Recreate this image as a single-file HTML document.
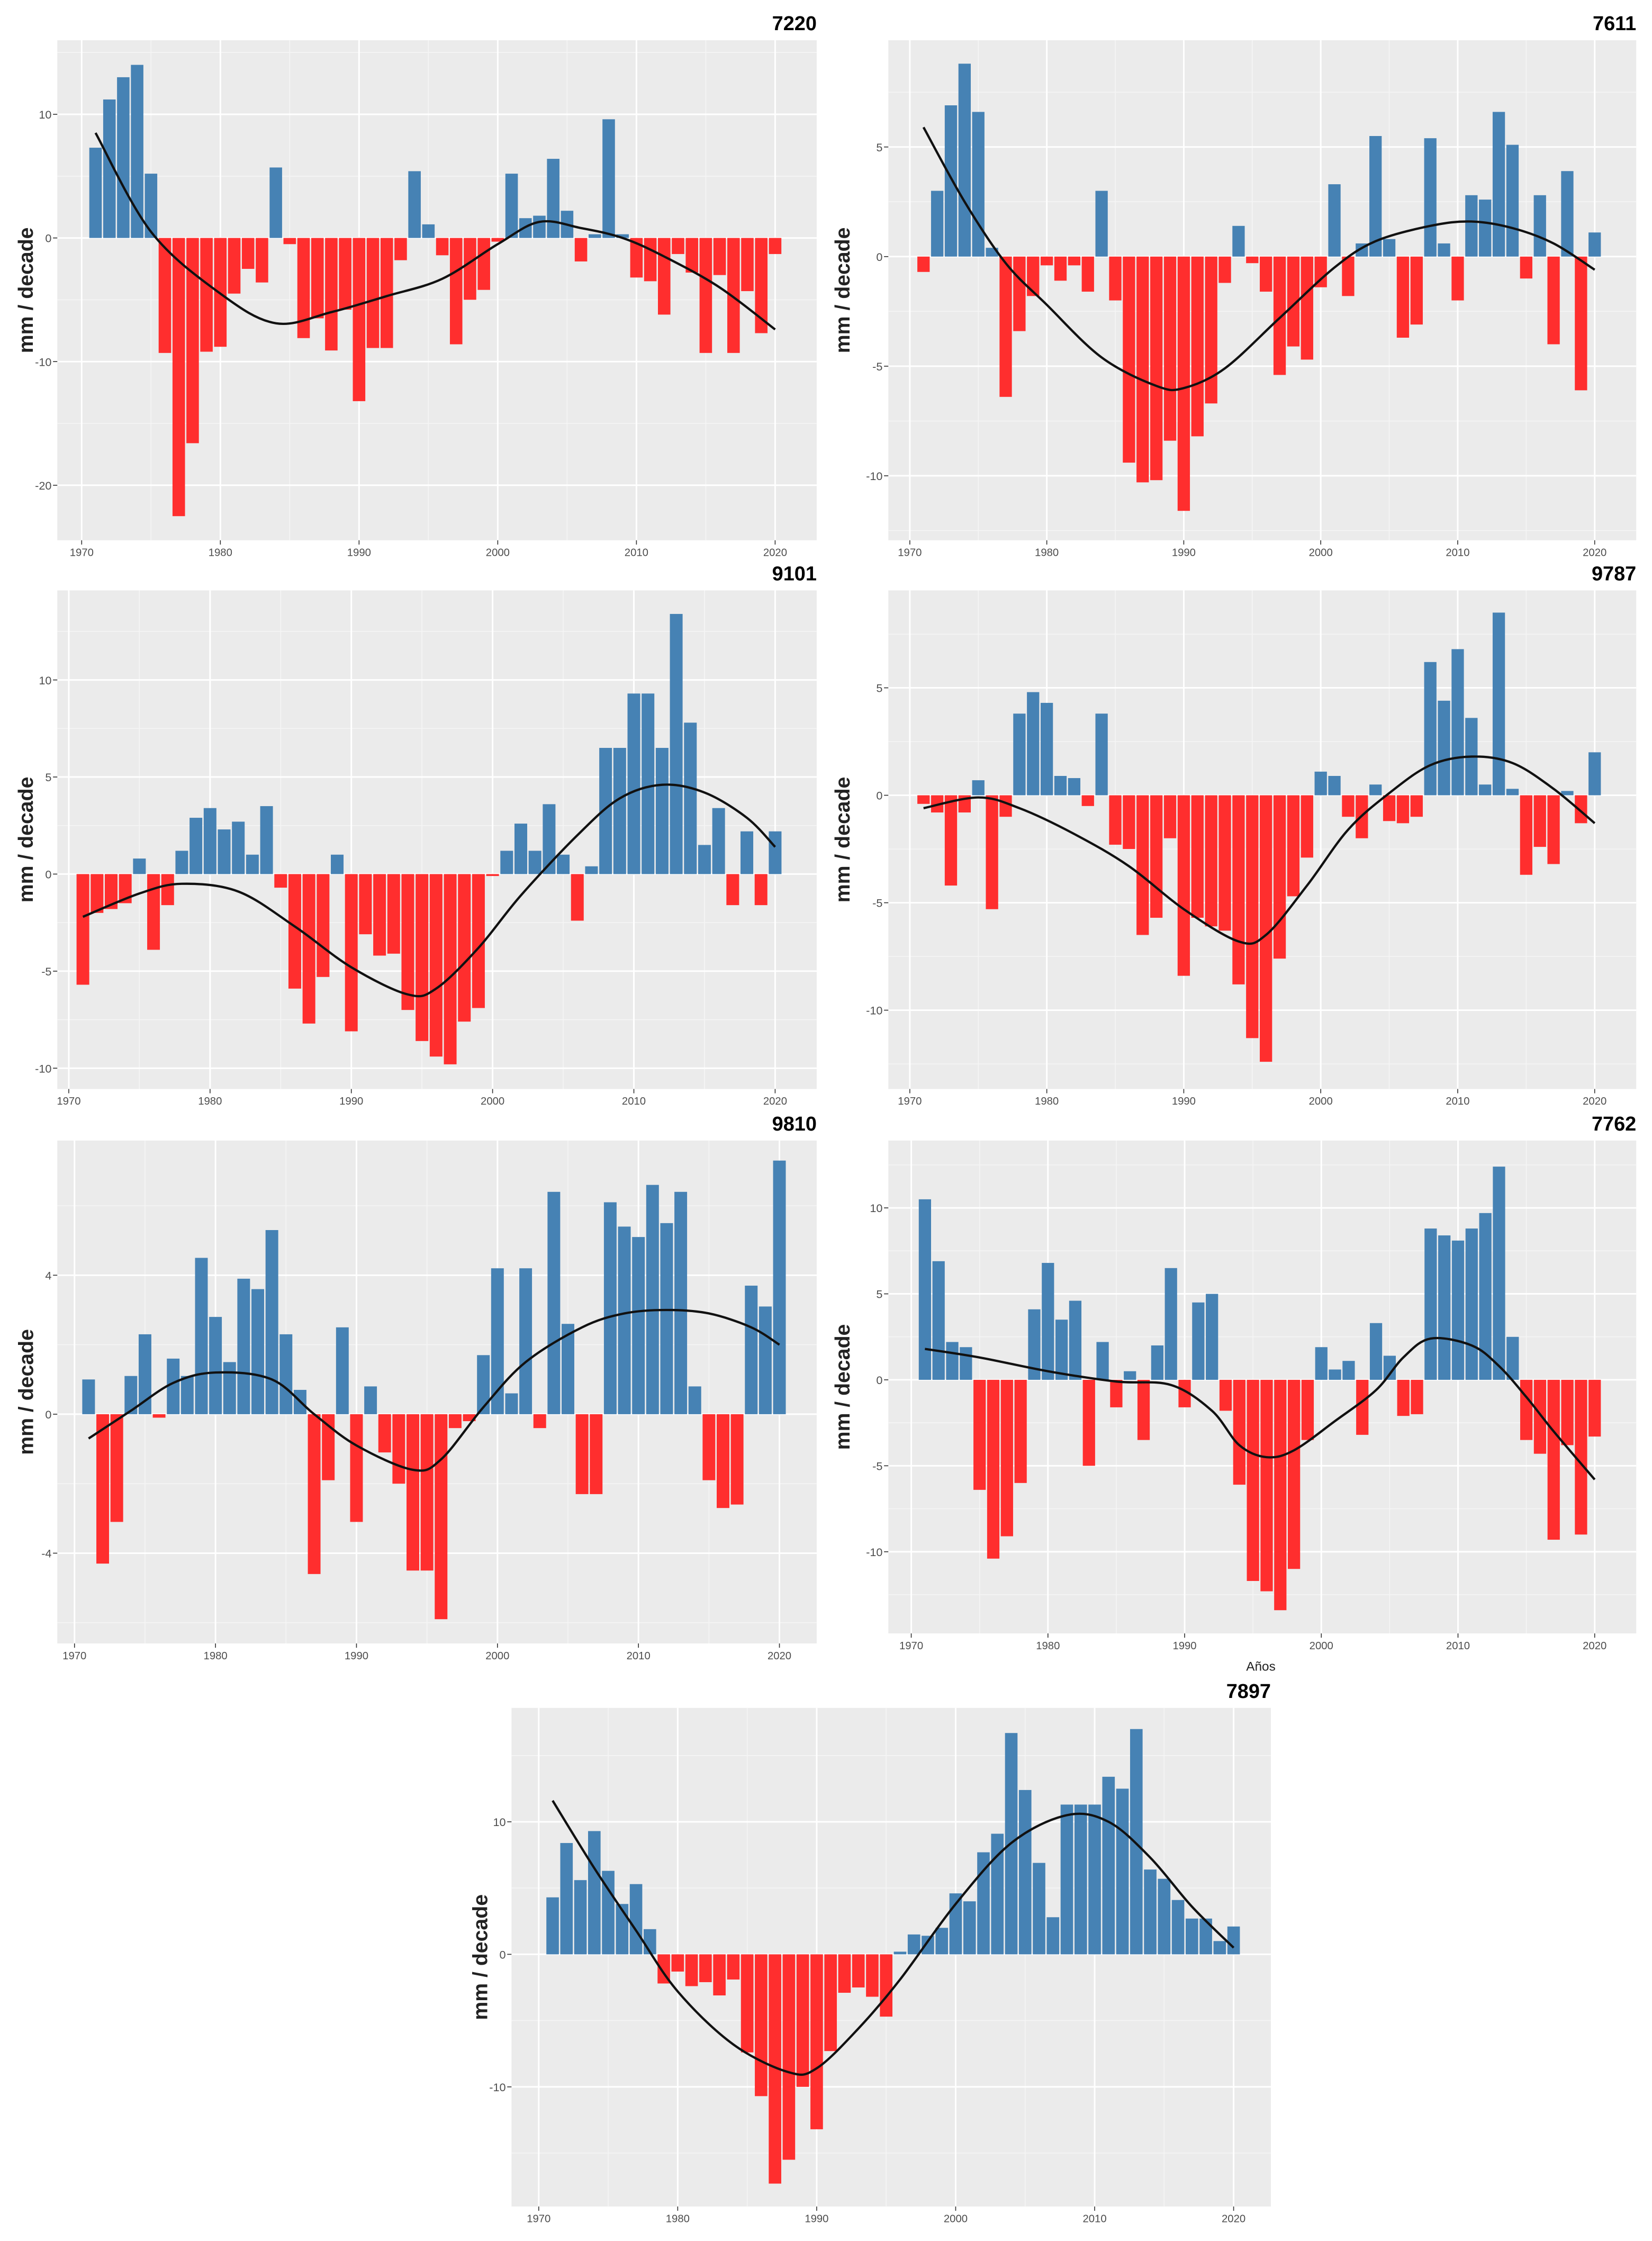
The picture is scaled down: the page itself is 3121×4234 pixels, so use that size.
<!DOCTYPE html>
<html><head><meta charset="utf-8"><style>
html,body{margin:0;padding:0;background:#fff}
svg{display:block}
text{font-family:"Liberation Sans",sans-serif}
</style></head><body>
<svg id="fig" xmlns="http://www.w3.org/2000/svg" width="3121" height="4234" viewBox="0 0 1153 1564"></svg>
<script>
const years=[];for(let y=1971;y<=2020;y++)years.push(y);
const xTicks=[1970,1980,1990,2000,2010,2020];
// Panel values (mm/decade), 1971-2020
const v7220=[7.3,11.2,13,14,5.2,-9.3,-22.5,-16.6,-9.2,-8.8,-4.5,-2.5,-3.6,5.7,-0.5,-8.1,-6.5,-9.1,-5.8,-13.2,-8.9,-8.9,-1.8,5.4,1.1,-1.4,-8.6,-5,-4.2,-0.3,5.2,1.6,1.8,6.4,2.2,-1.9,0.3,9.6,0.3,-3.2,-3.5,-6.2,-1.3,-2.8,-9.3,-3,-9.3,-4.3,-7.7,-1.3];
const s7220Y=[1971,1975,1980,1984,1988,1992,1996,2000,2003,2006,2009,2012,2016,2020];
const s7220V=[8.5,0.5,-4.5,-6.9,-6,-4.7,-3.3,-0.5,1.3,0.8,0,-1.5,-4,-7.4];
const v7611=[-0.7,3,6.9,8.8,6.6,0.4,-6.4,-3.4,-1.8,-0.4,-1.1,-0.4,-1.6,3,-2,-9.4,-10.3,-10.2,-8.4,-11.6,-8.2,-6.7,-1.2,1.4,-0.3,-1.6,-5.4,-4.1,-4.7,-1.4,3.3,-1.8,0.6,5.5,0.8,-3.7,-3.1,5.4,0.6,-2,2.8,2.6,6.6,5.1,-1,2.8,-4,3.9,-6.1,1.1];
const s7611Y=[1971,1974,1977,1980,1984,1988,1990,1993,1997,2001,2004,2008,2011,2014,2017,2020];
const s7611V=[5.9,2.5,-0.3,-2.2,-4.6,-5.9,-6,-5.1,-2.8,-0.5,0.7,1.4,1.6,1.3,0.6,-0.6];
const v9101=[-5.7,-2,-1.8,-1.5,0.8,-3.9,-1.6,1.2,2.9,3.4,2.3,2.7,1,3.5,-0.7,-5.9,-7.7,-5.3,1,-8.1,-3.1,-4.2,-4.1,-7,-8.6,-9.4,-9.8,-7.6,-6.9,-0.1,1.2,2.6,1.2,3.6,1,-2.4,0.4,6.5,6.5,9.3,9.3,6.5,13.4,7.8,1.5,3.4,-1.6,2.2,-1.6,2.2];
const s9101Y=[1971,1975,1978,1982,1986,1990,1994,1996,1999,2002,2006,2009,2012,2015,2018,2020];
const s9101V=[-2.2,-1,-0.5,-0.9,-2.7,-4.8,-6.2,-5.9,-3.8,-1.1,2,3.9,4.6,4.2,2.9,1.4];
const v9787=[-0.4,-0.8,-4.2,-0.8,0.7,-5.3,-1,3.8,4.8,4.3,0.9,0.8,-0.5,3.8,-2.3,-2.5,-6.5,-5.7,-2,-8.4,-5.7,-6.1,-6.3,-8.8,-11.3,-12.4,-7.6,-4.7,-2.9,1.1,0.9,-1,-2,0.5,-1.2,-1.3,-1,6.2,4.4,6.8,3.6,0.5,8.5,0.3,-3.7,-2.4,-3.2,0.2,-1.3,2];
const s9787Y=[1971,1975,1978,1982,1986,1990,1994,1996,1999,2002,2005,2008,2011,2014,2017,2020];
const s9787V=[-0.6,-0.1,-0.6,-1.8,-3.3,-5.3,-6.8,-6.5,-4.2,-1.6,0.1,1.4,1.8,1.5,0.3,-1.3];
const v9810=[1,-4.3,-3.1,1.1,2.3,-0.1,1.6,1.1,4.5,2.8,1.5,3.9,3.6,5.3,2.3,0.7,-4.6,-1.9,2.5,-3.1,0.8,-1.1,-2,-4.5,-4.5,-5.9,-0.4,-0.2,1.7,4.2,0.6,4.2,-0.4,6.4,2.6,-2.3,-2.3,6.1,5.4,5.1,6.6,5.5,6.4,0.8,-1.9,-2.7,-2.6,3.7,3.1,7.3];
const s9810Y=[1971,1974,1977,1980,1984,1987,1990,1994,1996,1999,2002,2006,2009,2012,2015,2018,2020];
const s9810V=[-0.7,0.1,0.9,1.2,1,0,-0.9,-1.6,-1.3,0.2,1.5,2.5,2.9,3,2.9,2.5,2];
const v7762=[10.5,6.9,2.2,1.9,-6.4,-10.4,-9.1,-6,4.1,6.8,3.5,4.6,-5,2.2,-1.6,0.5,-3.5,2,6.5,-1.6,4.5,5,-1.8,-6.1,-11.7,-12.3,-13.4,-11,-3.5,1.9,0.6,1.1,-3.2,3.3,1.4,-2.1,-2,8.8,8.4,8.1,8.8,9.7,12.4,2.5,-3.5,-4.3,-9.3,-3.8,-9,-3.3];
const s7762Y=[1971,1975,1980,1985,1989,1992,1994,1996,1998,2001,2004,2006,2008,2011,2013,2015,2017,2020];
const s7762V=[1.8,1.3,0.5,-0.1,-0.3,-1.8,-3.8,-4.5,-4.1,-2.4,-0.6,1.3,2.4,2,0.8,-1,-3,-5.8];
const v7897=[4.3,8.4,5.6,9.3,6.3,3.8,5.3,1.9,-2.2,-1.3,-2.4,-2.1,-3.1,-1.9,-7.4,-10.7,-17.3,-15.5,-10,-13.2,-7.3,-2.9,-2.5,-3.2,-4.7,0.2,1.5,1.4,2,4.6,4,7.7,9.1,16.7,12.4,6.9,2.8,11.3,11.3,11.3,13.4,12.5,17,6.4,5.7,4.1,2.7,2.7,1,2.1];
const s7897Y=[1971,1974,1977,1980,1984,1988,1990,1993,1996,2000,2004,2008,2011,2014,2017,2020];
const s7897V=[11.6,6.5,1.8,-2.8,-6.8,-8.9,-8.6,-5.6,-1.9,3.8,8.4,10.5,10,7.3,3.6,0.5];

const panels=[
 {id:'7220',vals:v7220,sy:s7220Y,sv:s7220V,L:40,R:570,T:28,B:377,x0:57,x1:541,y0:166,pu:8.63,ticks:[10,0,-10,-20],minor:5,lab:18},
 {id:'7611',vals:v7611,sy:s7611Y,sv:s7611V,L:620,R:1142,T:28,B:377,x0:635,x1:1113,y0:179,pu:15.3,ticks:[5,0,-5,-10],minor:2.5,lab:588},
 {id:'9101',vals:v9101,sy:s9101Y,sv:s9101V,L:40,R:570,T:412,B:760,x0:48,x1:541,y0:610,pu:13.55,ticks:[10,5,0,-5,-10],minor:2.5,lab:18},
 {id:'9787',vals:v9787,sy:s9787Y,sv:s9787V,L:620,R:1142,T:412,B:760,x0:635,x1:1113,y0:555,pu:15,ticks:[5,0,-5,-10],minor:2.5,lab:588},
 {id:'9810',vals:v9810,sy:s9810Y,sv:s9810V,L:40,R:570,T:796,B:1147,x0:52,x1:544,y0:987,pu:24.25,ticks:[4,0,-4],minor:2,lab:18},
 {id:'7762',vals:v7762,sy:s7762Y,sv:s7762V,L:620,R:1142,T:796,B:1140,x0:636,x1:1113,y0:963,pu:12,ticks:[10,5,0,-5,-10],minor:2.5,lab:588},
 {id:'7897',vals:v7897,sy:s7897Y,sv:s7897V,L:357,R:887,T:1192,B:1540,x0:376,x1:861,y0:1364,pu:9.25,ticks:[10,0,-10],minor:5,lab:335}
];
const NS='http://www.w3.org/2000/svg';
const svg=document.getElementById('fig');
function mk(tag,attrs,parent,txt){const e=document.createElementNS(NS,tag);for(const k in attrs)e.setAttribute(k,attrs[k]);if(txt!=null)e.textContent=txt;parent.appendChild(e);return e;}
panels.forEach(p=>{
 const g=mk('g',{},svg);
 
 
 const xs=yr=>p.x0+(yr-1970)*(p.x1-p.x0)/50;
 const ys=v=>p.y0-v*p.pu;
 const bg=mk('rect',{x:p.L,y:p.T,width:p.R-p.L,height:p.B-p.T,fill:'#EBEBEB'},g);
 
 
 // minor gridlines
 for(let yr=1965;yr<=2025;yr+=10){const x=xs(yr);if(x>p.L&&x<p.R)mk('line',{x1:x,x2:x,y1:p.T,y2:p.B,stroke:'#F5F5F5','stroke-width':0.6},g);}
 for(let v=-40;v<=40;v+=p.minor*2){const y=ys(v+p.minor);if(y>p.T&&y<p.B)mk('line',{x1:p.L,x2:p.R,y1:y,y2:y,stroke:'#F5F5F5','stroke-width':0.6},g);}
 xTicks.forEach(t=>{const x=xs(t);mk('line',{x1:x,x2:x,y1:p.T,y2:p.B,stroke:'#fff','stroke-width':1.1},g);
   mk('line',{x1:x,x2:x,y1:p.B,y2:p.B+3,stroke:'#333','stroke-width':0.6},g);
   const tl=mk('text',{x:x,y:p.B+11,'font-size':7.5,fill:'#4D4D4D','text-anchor':'middle'},g,t);
   
   });
 p.ticks.forEach(t=>{const y=ys(t);mk('line',{x1:p.L,x2:p.R,y1:y,y2:y,stroke:'#fff','stroke-width':1.1},g);
   mk('line',{x1:p.L-3,x2:p.L,y1:y,y2:y,stroke:'#333','stroke-width':0.6},g);
   const tl=mk('text',{x:p.L-4,y:y+3,'font-size':8,fill:'#4D4D4D','text-anchor':'end'},g,t);
   
   });
 const bw=(p.x1-p.x0)/50*0.9;
 p.vals.forEach((v,i)=>{const x=xs(years[i]);const y=ys(Math.max(v,0));const h=Math.abs(v)*p.pu;
   const r=mk('rect',{x:x-bw/2,y:y,width:bw,height:h,fill:v>=0?'#4682B4':'#FF2E2E'},g);
   
   });
 // smooth trend line (Catmull-Rom)
 const pts=p.sy.map((yr,i)=>[xs(yr),ys(p.sv[i])]);
 let d='M'+pts[0][0]+','+pts[0][1];
 for(let i=0;i<pts.length-1;i++){const p0=pts[Math.max(i-1,0)],p1=pts[i],p2=pts[i+1],p3=pts[Math.min(i+2,pts.length-1)];
   d+=' C'+(p1[0]+(p2[0]-p0[0])/6)+','+(p1[1]+(p2[1]-p0[1])/6)+' '+(p2[0]-(p3[0]-p1[0])/6)+','+(p2[1]-(p3[1]-p1[1])/6)+' '+p2[0]+','+p2[1];}
 const ln=mk('path',{d:d,fill:'none',stroke:'#111','stroke-width':1.6},g);
 
 
 const tt=mk('text',{x:p.R,y:p.T-7,'font-size':14,'font-weight':'bold',fill:'#000','text-anchor':'end'},g,p.id);
 
 
 const cy=(p.T+p.B)/2;
 const yl=mk('text',{x:p.lab,y:cy,'font-size':14.5,'font-weight':'bold',fill:'#222','text-anchor':'middle',transform:'rotate(-90 '+(p.lab)+' '+cy+')',dy:5},g,'mm / decade');
 
 
});
const ax=mk('text',{x:880,y:1166,'font-size':9,fill:'#222','text-anchor':'middle'},svg,'Años');


</script>
</body></html>
